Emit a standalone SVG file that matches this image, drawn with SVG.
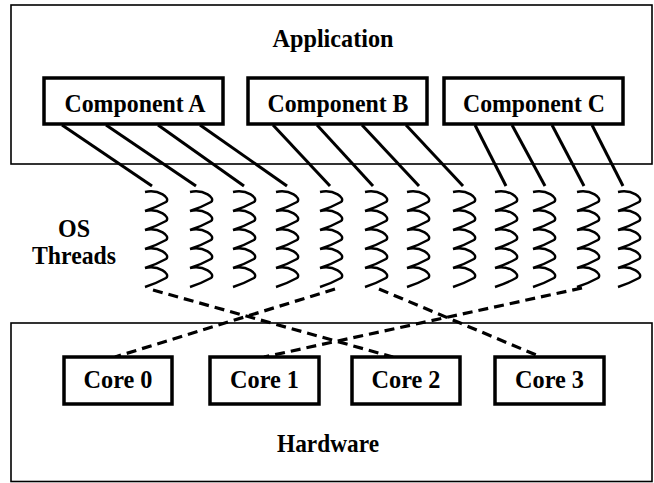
<svg xmlns="http://www.w3.org/2000/svg" width="654" height="483" viewBox="0 0 654 483">
<style>
.outer{fill:none;stroke:#000;stroke-width:1.6}
.box{fill:#fff;stroke:#000;stroke-width:3.5}
.t{font-family:"Liberation Serif","Times New Roman",serif;font-weight:bold;font-size:26px;fill:#000;text-anchor:middle}
.solid{stroke:#000;stroke-width:3;fill:none}
.dash{stroke:#000;stroke-width:3.2;fill:none;stroke-dasharray:10 6}
.thr{fill:none;stroke:#000;stroke-width:2.4;stroke-linejoin:miter}
</style>
<defs>
<path id="spring" class="thr" d="M0,0 c14,-3 26,6 21,10 q-9,5 -21,9 c14,-3 26,6 21,10 q-9,5 -21,9 c14,-3 26,6 21,10 q-9,5 -21,9 c14,-3 26,6 21,10 q-9,5 -21,9 c14,-3 26,6 21,10 q-9,5 -21,9"/>
</defs>
<rect width="654" height="483" fill="#fff"/>
<g id="application">
<rect class="outer" x="11" y="5" width="641" height="159"/>
<text class="t" x="333" y="47" textLength="121" lengthAdjust="spacingAndGlyphs">Application</text>
</g>
<g id="hardware">
<rect class="outer" x="11" y="323" width="641" height="158.5"/>
<text class="t" x="328" y="452" textLength="102" lengthAdjust="spacingAndGlyphs">Hardware</text>
</g>
<g id="connectors">
<line class="solid" x1="62" y1="125" x2="152" y2="186"/>
<line class="solid" x1="106" y1="125" x2="196" y2="186"/>
<line class="solid" x1="158" y1="125" x2="244" y2="186"/>
<line class="solid" x1="200" y1="125" x2="287" y2="186"/>
<line class="solid" x1="273" y1="125" x2="330" y2="186"/>
<line class="solid" x1="317" y1="125" x2="373" y2="186"/>
<line class="solid" x1="362" y1="125" x2="419" y2="186"/>
<line class="solid" x1="406" y1="125" x2="463" y2="186"/>
<line class="solid" x1="475" y1="125" x2="506" y2="186"/>
<line class="solid" x1="512" y1="125" x2="545" y2="186"/>
<line class="solid" x1="552" y1="125" x2="584" y2="186"/>
<line class="solid" x1="592" y1="125" x2="623" y2="186"/>
<line class="dash" x1="153" y1="290" x2="393" y2="357"/>
<line class="dash" x1="335" y1="289" x2="115" y2="357"/>
<line class="dash" x1="379" y1="289" x2="541" y2="357"/>
<line class="dash" x1="582" y1="288" x2="264" y2="357"/>
</g>
<g id="componentA"><rect class="box" x="44" y="78" width="179" height="46"/><text class="t" x="135" y="112" textLength="141" lengthAdjust="spacingAndGlyphs">Component A</text></g>
<g id="componentB"><rect class="box" x="248" y="78" width="179" height="46"/><text class="t" x="338" y="112" textLength="141" lengthAdjust="spacingAndGlyphs">Component B</text></g>
<g id="componentC"><rect class="box" x="444" y="78" width="179" height="46"/><text class="t" x="534" y="112" textLength="142" lengthAdjust="spacingAndGlyphs">Component C</text></g>
<g id="os-threads">
<text class="t" x="74" y="237" textLength="32" lengthAdjust="spacingAndGlyphs">OS</text>
<text class="t" x="74" y="264" textLength="84" lengthAdjust="spacingAndGlyphs">Threads</text>
</g>
<g id="thread1"><use href="#spring" x="145" y="192"/></g>
<g id="thread2"><use href="#spring" x="190" y="192"/></g>
<g id="thread3"><use href="#spring" x="233" y="192"/></g>
<g id="thread4"><use href="#spring" x="276" y="192"/></g>
<g id="thread5"><use href="#spring" x="320" y="192"/></g>
<g id="thread6"><use href="#spring" x="365" y="192"/></g>
<g id="thread7"><use href="#spring" x="407" y="192"/></g>
<g id="thread8"><use href="#spring" x="453" y="192"/></g>
<g id="thread9"><use href="#spring" x="495" y="192"/></g>
<g id="thread10"><use href="#spring" x="533" y="192"/></g>
<g id="thread11"><use href="#spring" x="577" y="192"/></g>
<g id="thread12"><use href="#spring" x="618" y="192"/></g>
<g id="core0"><rect class="box" x="64" y="357" width="108" height="47"/><text class="t" x="118" y="388" textLength="69" lengthAdjust="spacingAndGlyphs">Core 0</text></g>
<g id="core1"><rect class="box" x="210" y="357" width="109" height="47"/><text class="t" x="264.5" y="388" textLength="69" lengthAdjust="spacingAndGlyphs">Core 1</text></g>
<g id="core2"><rect class="box" x="352" y="357" width="108" height="47"/><text class="t" x="406" y="388" textLength="69" lengthAdjust="spacingAndGlyphs">Core 2</text></g>
<g id="core3"><rect class="box" x="495" y="357" width="109" height="47"/><text class="t" x="549.5" y="388" textLength="69" lengthAdjust="spacingAndGlyphs">Core 3</text></g>
</svg>
